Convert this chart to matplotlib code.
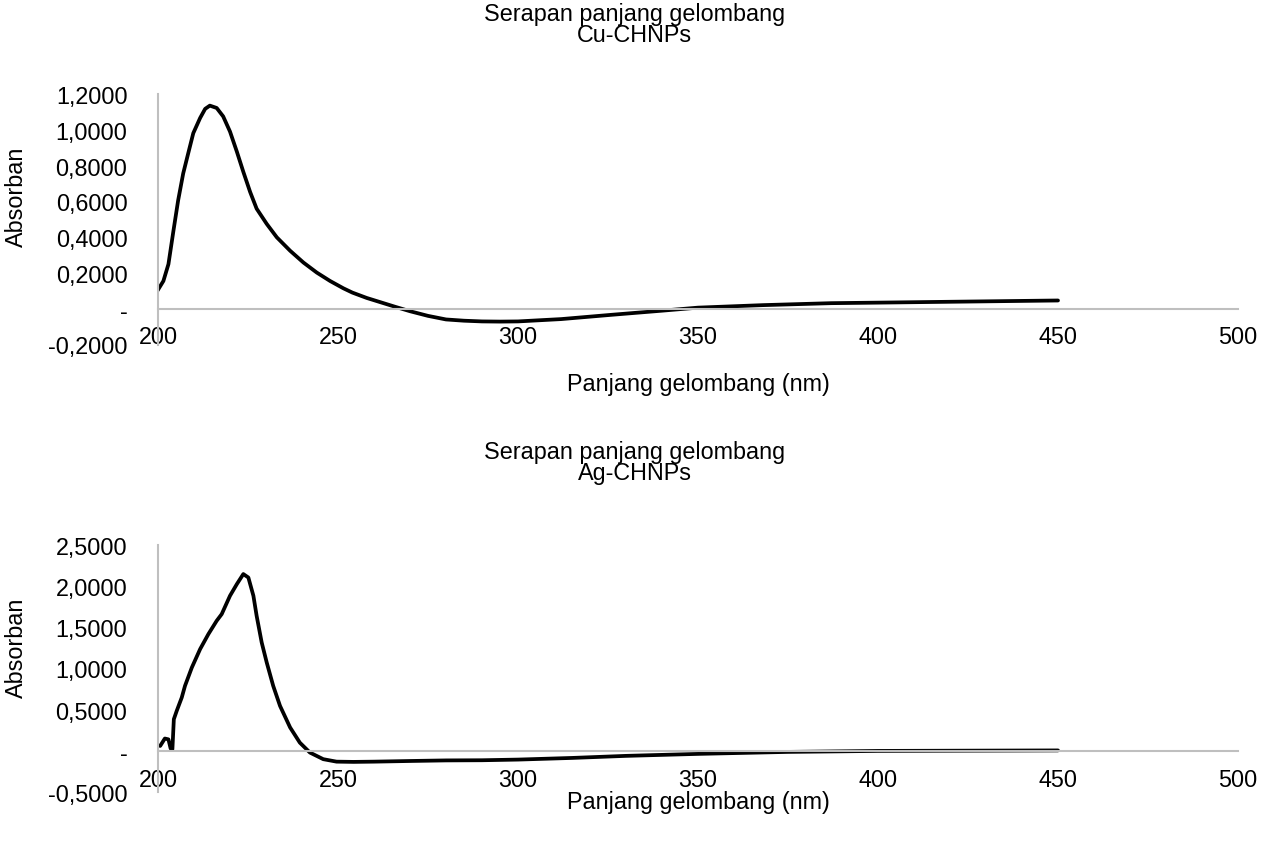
import matplotlib
matplotlib.use("Agg")
import matplotlib.pyplot as plt
from matplotlib.ticker import FuncFormatter

plt.rcParams['font.family'] = ['Liberation Sans', 'DejaVu Sans']

# ---- data ----
cu_nm = [199.8, 201.5, 202.9, 204.3, 205.6, 207.0, 208.4, 209.8, 211.7, 213.1, 214.4, 216.3, 218.1,
         220.0, 221.9, 223.7, 225.6, 227.4, 230.2, 233.0, 236.7, 240.4, 244.1, 247.8, 251.5, 254,
         258, 262, 266, 270, 275, 280, 285, 290, 295, 300, 312, 326, 340, 350, 368, 387, 400, 425, 450]
cu_abs = [0.099, 0.155, 0.249, 0.437, 0.606, 0.756, 0.869, 0.981, 1.066, 1.117, 1.135, 1.122, 1.075,
          0.99, 0.878, 0.765, 0.652, 0.559, 0.474, 0.399, 0.324, 0.258, 0.202, 0.155, 0.114, 0.09,
          0.06, 0.035, 0.01, -0.014, -0.04, -0.06, -0.067, -0.071, -0.072, -0.071, -0.058, -0.034,
          -0.011, 0.006, 0.02, 0.031, 0.034, 0.04, 0.046]

ag_nm = [200.6, 201.9, 202.9, 203.5, 204.0, 204.4, 205.2, 206.6, 207.5, 209.4, 211.7, 214.0, 216.3,
         217.7, 220.0, 221.9, 223.7, 225.1, 226.5, 227.4, 228.8, 230.2, 232.0, 233.9, 236.7, 239.4,
         242.2, 245.9, 249.6, 254.3, 260, 270, 280, 290, 300, 315, 330, 350, 375, 400, 425, 450]
ag_abs = [0.06, 0.15, 0.14, 0.03, 0.02, 0.384, 0.485, 0.647, 0.788, 1.01, 1.233, 1.415, 1.576,
          1.657, 1.879, 2.02, 2.142, 2.10, 1.879, 1.636, 1.314, 1.071, 0.788, 0.545, 0.284, 0.10,
          -0.02, -0.10, -0.13, -0.133, -0.13, -0.122, -0.115, -0.113, -0.105, -0.085, -0.06,
          -0.036, -0.012, 0.0, 0.003, 0.006]

x_ticks = [200, 250, 300, 350, 400, 450, 500]
cu_yticks = [-0.2, 0.0, 0.2, 0.4, 0.6, 0.8, 1.0, 1.2]
ag_yticks = [-0.5, 0.0, 0.5, 1.0, 1.5, 2.0, 2.5]

titles = [("Serapan panjang gelombang", "Cu-CHNPs"), ("Serapan panjang gelombang", "Ag-CHNPs")]
xlabel = "Panjang gelombang (nm)"
ylabel = "Absorban"

W, H = 1269, 845
fig = plt.figure(figsize=(W / 100, H / 100), dpi=100)

FS = 16.8
GRAY = "#BFBFBF"


def yfmt(v, pos):
    if abs(v) < 1e-9:
        return "-"
    return ("%.4f" % v).replace(".", ",")


def make_axes(rect, nm, ab, yticks, title, t1_y, t2_y, xlabel_y, ylabel_y):
    ax = fig.add_axes(rect)
    ax.plot(nm, ab, color="black", lw=2.7, solid_capstyle="round", solid_joinstyle="round")
    ax.set_xlim(200, 500)
    ax.set_ylim(yticks[0], yticks[-1])
    ax.set_xticks(x_ticks)
    ax.set_yticks(yticks)
    ax.yaxis.set_major_formatter(FuncFormatter(yfmt))
    for s in ["top", "right"]:
        ax.spines[s].set_visible(False)
    ax.spines["bottom"].set_position(("data", 0))
    ax.spines["left"].set_color(GRAY)
    ax.spines["bottom"].set_color(GRAY)
    ax.spines["left"].set_linewidth(1.5)
    ax.spines["bottom"].set_linewidth(1.5)
    ax.tick_params(axis="x", length=0, pad=12, labelsize=FS, colors="black")
    ax.tick_params(axis="y", length=0, pad=22, labelsize=FS, colors="black")
    fig.text(0.5, t1_y, title[0], ha="center", va="center", fontsize=FS)
    fig.text(0.5, t2_y, title[1], ha="center", va="center", fontsize=FS)
    fig.text(698 / W, xlabel_y, xlabel, ha="center", va="center", fontsize=FS)
    fig.text(16 / W, ylabel_y, ylabel, ha="center", va="center", rotation=90, fontsize=FS)
    return ax


make_axes([158 / W, 1 - 345.5 / H, 1080 / W, 250.5 / H], cu_nm, cu_abs, cu_yticks,
          titles[0], 1 - 14 / H, 1 - 35 / H, 1 - 385 / H, 1 - 197 / H)
make_axes([158 / W, 1 - 793.2 / H, 1080 / W, 247.7 / H], ag_nm, ag_abs, ag_yticks,
          titles[1], 1 - 453 / H, 1 - 474 / H, 1 - 803 / H, 1 - 648 / H)

fig.savefig("out.png", dpi=100)
